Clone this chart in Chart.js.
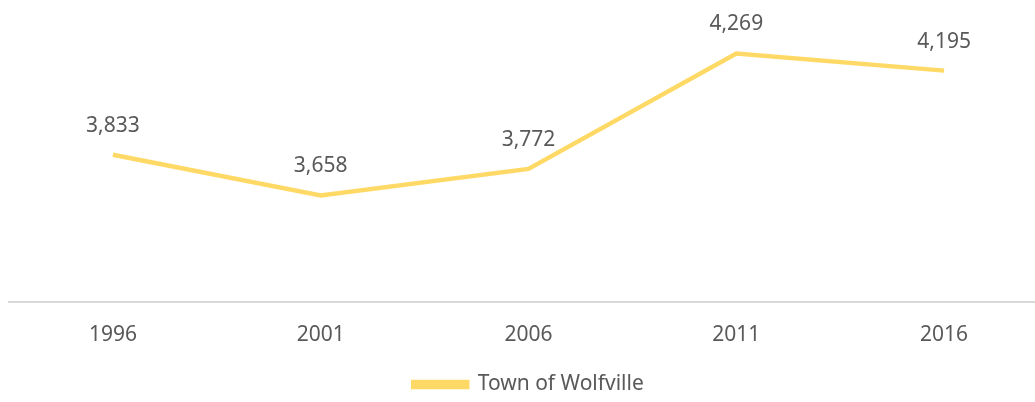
<!DOCTYPE html>
<html>
<head>
<meta charset="utf-8">
<script src="https://cdn.jsdelivr.net/npm/chart.js@4/dist/chart.umd.min.js"></script>
<style>
    html, body { margin: 0; padding: 0; background: #fff; overflow: hidden; }
    #wrap { width: 1064px; height: 405px; position: relative; }
</style>
</head>
<body>
<div id="wrap"><canvas id="chart"></canvas></div>
<script>
const years = ['1996', '2001', '2006', '2011', '2016'];
const population = [3833, 3658, 3772, 4269, 4195];
const seriesName = 'Town of Wolfville';

const textColor = '#595959';
const lineColor = '#FFD966';
const fontFamily = '"Noto Sans", "Open Sans", sans-serif';
const fontSize = 21;

// simple value labels above each point
const pointLabels = {
    id: 'pointLabels',
    afterDatasetsDraw(chart) {
        const ctx = chart.ctx;
        const meta = chart.getDatasetMeta(0);
        ctx.save();
        ctx.fillStyle = textColor;
        ctx.font = `${fontSize}px ${fontFamily}`;
        ctx.textAlign = 'center';
        ctx.textBaseline = 'middle';
        meta.data.forEach((pt, i) => {
            ctx.fillText(population[i].toLocaleString('en-US'), pt.x, pt.y - 29);
        });
        ctx.restore();
    },
};

new Chart(document.getElementById('chart'), {
    type: 'line',
    data: {
        labels: years,
        datasets: [
            {
                label: seriesName,
                data: population,
                borderColor: lineColor,
                backgroundColor: lineColor,
                borderWidth: 4.5,
                pointRadius: 0,
                tension: 0,
            },
        ],
    },
    options: {
        responsive: true,
        maintainAspectRatio: false,
        animation: false,
        layout: {
            padding: { left: 9, right: 16, top: 23, bottom: 0 },
        },
        plugins: {
            legend: {
                position: 'bottom',
                labels: {
                    boxWidth: 54,
                    boxHeight: 5,
                    padding: 5,
                    color: textColor,
                    font: { family: fontFamily, size: fontSize },
                },
            },
            tooltip: { enabled: false },
        },
        scales: {
            x: {
                offset: true,
                grid: { display: false, drawTicks: false },
                border: { color: '#d9d9d9', width: 2 },
                ticks: {
                    color: textColor,
                    padding: 21,
                    font: { family: fontFamily, size: fontSize },
                },
            },
            y: {
                display: false,
                min: 3200,
                max: 4400,
            },
        },
    },
    plugins: [pointLabels],
});
</script>
</body>
</html>
